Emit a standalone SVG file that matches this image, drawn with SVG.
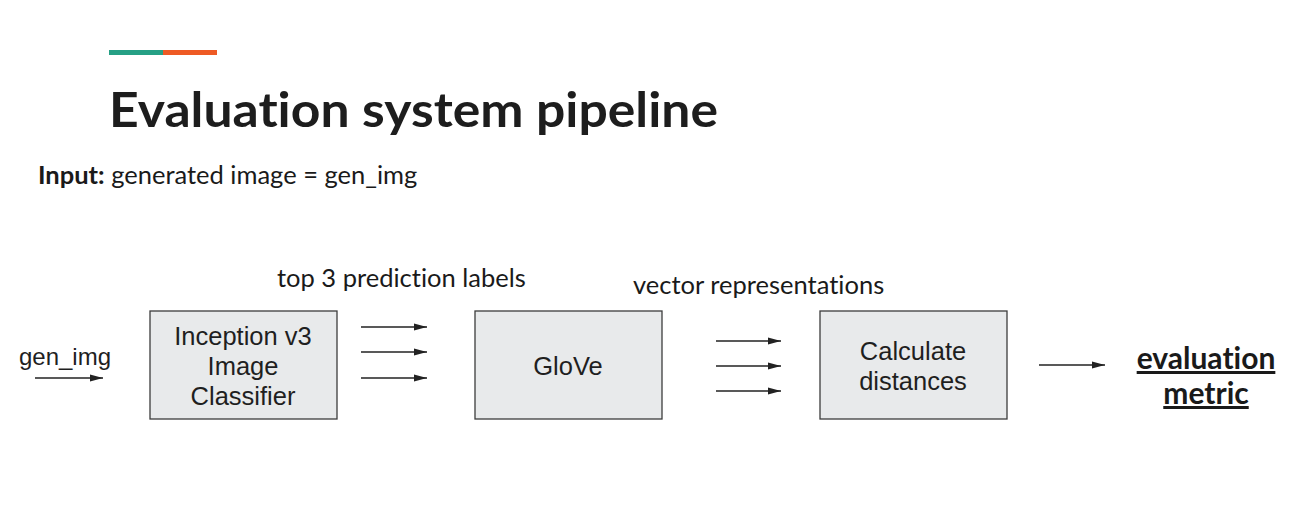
<svg xmlns="http://www.w3.org/2000/svg" width="1292" height="514" viewBox="0 0 1292 514">
<style>
.box{fill:#e8eaeb;stroke:#3c3c3c;stroke-width:1.3}
.bt{font-family:"Liberation Sans",Arial,sans-serif;font-size:25.5px;fill:#1f1f1f;text-anchor:middle}
.lt{font-family:Lato,"Liberation Sans",sans-serif;font-size:25.5px;fill:#1a1a1a;font-variant-ligatures:none}
.cn{stroke:#222;stroke-width:1.3;fill:none;marker-end:url(#ah)}
</style>
<defs>
<marker id="ah" viewBox="0 0 13 8" refX="13" refY="4" markerWidth="13" markerHeight="8" markerUnits="userSpaceOnUse" orient="auto">
<path d="M0,0.5 L13,4 L0,7.5 z" fill="#222"/>
</marker>
</defs>
<rect width="1292" height="514" fill="#fff"/>
<rect x="109" y="50" width="55" height="5" fill="#26a085"/>
<rect x="163" y="50" width="54" height="5" fill="#ee5a24"/>
<text x="109" y="127" font-family="Lato,'Liberation Sans',sans-serif" font-weight="bold" font-size="47" fill="#1d1d1d" style="font-variant-ligatures:none" textLength="609" lengthAdjust="spacingAndGlyphs">Evaluation system pipeline</text>
<text x="38" y="184" class="lt"><tspan font-weight="bold">Input:</tspan> generated image = gen_img</text>
<g id="n-genimg"><text x="65" y="365" class="bt" style="font-size:24px">gen_img</text></g>
<g id="n-inception">
<rect x="150" y="311" width="187" height="108" class="box"/>
<text x="243" y="345" class="bt">Inception v3</text>
<text x="243" y="375" class="bt">Image</text>
<text x="243" y="405" class="bt">Classifier</text>
</g>
<g id="n-glove">
<rect x="475" y="311" width="187" height="108" class="box"/>
<text x="568" y="375" class="bt">GloVe</text>
</g>
<g id="n-calc">
<rect x="820" y="311" width="187" height="108" class="box"/>
<text x="913" y="360" class="bt">Calculate</text>
<text x="913" y="390" class="bt">distances</text>
</g>
<g id="n-metric">
<text x="1206" y="369" class="lt" style="font-size:30px;font-weight:bold;text-anchor:middle;text-decoration:underline">evaluation</text>
<text x="1206" y="404" class="lt" style="font-size:30px;font-weight:bold;text-anchor:middle;text-decoration:underline">metric</text>
</g>
<g id="labels">
<text x="277" y="287" class="lt">top 3 prediction labels</text>
<text x="633" y="294" class="lt">vector representations</text>
</g>
<g id="connectors">
<line x1="35" y1="378" x2="103" y2="378" class="cn"/>
<line x1="361" y1="327" x2="427" y2="327" class="cn"/>
<line x1="361" y1="352" x2="427" y2="352" class="cn"/>
<line x1="361" y1="378" x2="427" y2="378" class="cn"/>
<line x1="716" y1="341" x2="781" y2="341" class="cn"/>
<line x1="716" y1="366" x2="781" y2="366" class="cn"/>
<line x1="716" y1="391" x2="781" y2="391" class="cn"/>
<line x1="1039" y1="365" x2="1105" y2="365" class="cn"/>
</g>
</svg>
